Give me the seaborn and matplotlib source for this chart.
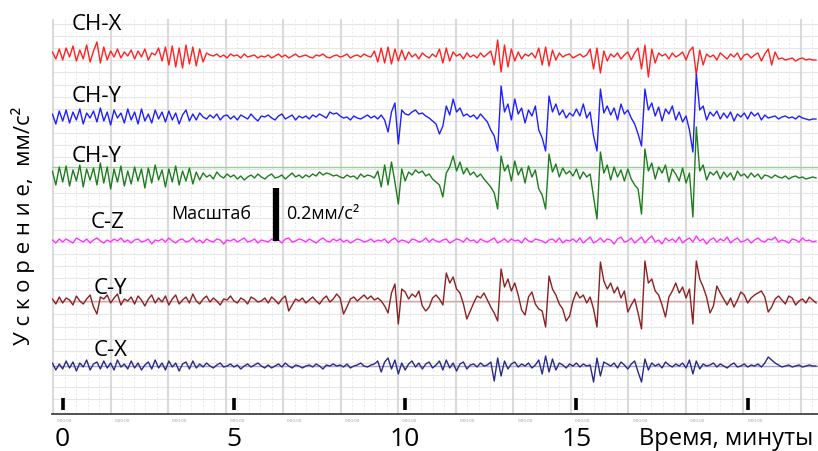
import numpy as np
import pandas as pd
import matplotlib
matplotlib.use("Agg")
import matplotlib.pyplot as plt
import seaborn as sns

# digitised traces, sampled every 0.1 min starting at t = -0.3 min
# amplitude unit: 1 unit = 0.2/53 mm/s^2 (scale bar of 0.2 mm/s^2 = 53 units), up = positive
T0 = -0.3
DT = 0.1
SCALE_BAR = 53  # units for 0.2 mm/s^2

ch_x = [5, -2, 8,
        -3, 9, 0, 11, -4, 7, -2, 12, -5, 6,
        15, -6, 10, -3, 6, 0, 8, -1, 5, 1,
        7, -2, 6, 0, 8, -3, 4, 2, 9, -4,
        10, -8, 11, -10, 9, -11, 12, -7, 10, -9,
        8, -5, 4, 2, 1, 3, 0, 2, -1, 3,
        1, 2, -1, 3, 0, 1, 2, -1, 1, 0,
        2, -1, 1, 3, 0, 2, -1, 1, 3, 0,
        1, 2, 0, -1, 2, 1, 3, 0, -1, 1,
        2, 0, 1, 3, -1, 1, 2, 0, 3, 1,
        0, 6, -5, 9, -6, 10, -7, 8, -4, 7,
        -3, 5, 0, 3, -2, 4, 1, -1, 3, 0,
        8, -6, 9, -4, 5, 1, 3, -2, 4, 0,
        2, -1, 4, 0, 3, 6, -8, 17, -15, 12,
        -10, 8, -4, 5, -2, 3, 1, 4, -1, 9,
        -8, 10, -9, 7, -3, 4, 0, 2, 3, -1,
        1, 3, 0, 2, 8, -12, 9, -16, 6, -4,
        3, 0, 4, -2, 2, 5, -3, 4, 9, -12,
        12, -20, 8, -6, 4, 1, 3, -2, 4, 0,
        2, 5, -3, 6, 10, -18, 7, -8, 3, 0,
        2, -3, 4, 1, -2, 3, 0, 4, -3, 2,
        3, -1, 2, 4, -4, 3, 8, -8, 5, -2,
        -1, -3, -2, -1, -4, -2, -1, -3, -2, -3,
        -3]

ch_y = [4, -6, 7,
        -3, 8, -5, 6, -2, 9, -6, 5, 0, 7,
        -4, 10, -3, 6, -7, 8, 0, 5, -5, 9,
        -2, 6, -6, 9, -3, 4, -5, 8, -1, 6,
        -4, 7, -2, 5, -6, 3, 8, -3, 4, -2,
        5, 1, -1, 3, 0, 4, -2, 2, 3, -1,
        2, -2, 3, 1, -1, 4, 0, -3, 2, 1,
        3, 0, -2, 2, 4, -1, 1, 3, -2, 2,
        0, 2, -1, 3, 1, 4, 2, 0, 6, 4,
        5, 2, 0, 1, -2, 2, 0, -1, 1, 3,
        0, 2, -1, 3, -2, -14, 6, 15, -26, 8,
        4, 3, 6, 8, 4, 5, 2, 0, -3, -6,
        -16, -8, 12, 3, 19, 6, 10, 2, 4, 1,
        3, -1, 4, 0, -4, -12, -18, -33, 32, 6,
        14, -2, 19, 4, 10, -5, 8, 2, 12, -12,
        -20, -33, 22, 6, 14, 3, 8, 0, 5, 2,
        9, 2, 14, 0, 6, -18, -33, 29, 5, 12,
        3, 10, -2, 14, 4, 8, 0, -6, -16, -28,
        29, 8, 15, 2, 11, -3, 9, 4, 12, -2,
        6, -4, 2, -12, -34, 44, 8, 12, -2, 6,
        2, 7, -1, 5, 0, 6, -3, 4, 1, 5,
        -1, 6, 2, 5, -2, 3, 0, 1, 2, -1,
        1, 2, 0, 1, -1, 2, 0, -1, -2, -1,
        -1]

ch_y2 = [6, -8, 10,
         -5, 11, -9, 7, -4, 12, -10, 8, -3, 9,
         -8, 14, -6, 10, -12, 8, -5, 11, -9, 6,
         -7, 10, -4, 8, -11, 9, -6, 12, -3, 7,
         -10, 8, -5, 11, -8, 6, -4, 9, -7, 5,
         -3, 4, 0, 2, -2, 5, 1, -1, 3, 0,
         2, -2, 1, -3, 0, 2, -1, 3, 0, -2,
         1, 3, -1, 0, 2, -2, 1, 4, 0, 2,
         -1, 2, 0, 3, 1, 5, 2, 4, 3, 1,
         2, 0, -1, 2, 0, 1, -2, 3, 0, 2,
         1, -1, 6, -10, 12, -8, 15, -5, -27, 8,
         -4, 5, 2, 7, 4, 6, 1, 3, -2, -5,
         -8, -20, 4, 10, 21, 6, 15, 3, 9, 2,
         5, 0, 3, -2, -6, -10, -16, -32, 21, 6,
         12, -4, 16, 2, 9, -6, 11, 0, 7, -12,
         -18, -32, 23, 5, 13, 0, 9, 3, 6, 1,
         8, -2, 5, 0, 3, -20, -42, 25, 4, 12,
         -3, 10, 0, 7, -4, 8, -2, -8, -12, -37,
         28, 6, 14, -2, 10, 4, 12, -5, 8, 3,
         -4, 9, -6, 4, -40, 50, 6, 12, -3, 5,
         2, 6, -2, 5, 0, 4, -3, 6, 1, 3,
         -1, 4, 0, 3, -2, 2, 1, -1, 2, 0,
         -1, 1, -2, 0, 1, -1, 0, -2, -1, 0,
         -1]

c_z = [1, -2, 2,
       -1, 2, 0, -2, 3, 1, -1, 2, -2, 1,
       3, 0, -2, 1, -1, 2, 0, 3, -1, 1,
       -2, 1, 2, -1, 0, 2, -3, 1, 0, 2,
       -1, 3, 0, -2, 1, 2, -1, 0, 3, -1,
       1, -2, 2, 0, -1, 2, 1, -3, 1, 0,
       2, -1, 1, 3, -1, 0, 2, -2, 1, 0,
       -1, 2, 0, 1, -2, 2, 3, -1, 0, 2,
       1, -1, 2, 0, -2, 1, 3, 0, -1, 2,
       0, 2, -1, 1, -2, 0, 2, 1, -1, 0,
       2, -1, 1, 0, 2, -2, 1, 3, -1, 1,
       0, -2, 2, 1, -1, 0, 3, -1, 2, 0,
       -1, 1, 2, -2, 0, 2, 1, -1, 3, 0,
       1, -2, 2, 0, -1, 1, 3, -2, 0, 2,
       -1, 2, 0, 1, -2, 3, 0, -1, 2, 1,
       0, -2, 1, 2, -1, 3, -2, 1, 0, 2,
       -1, 3, -2, 1, 4, -2, 0, 3, -1, 2,
       1, -3, 2, 4, -1, 0, 3, -2, 1, 4,
       -2, 2, 5, -1, 1, -3, 3, 0, 2, -1,
       4, -2, 1, 3, -1, 5, 0, 2, -3, 1,
       3, -1, 2, 0, 4, -2, 1, 3, -1, 0,
       2, -2, 1, 3, 0, -1, 2, 1, 4, -1,
       1, 0, -2, 2, 1, -1, 3, 0, 1, -1,
       0]

c_y = [2, -3, 4,
       -2, 3, 1, -4, 5, 0, -3, 2, 6, -6,
       -13, 4, 2, 6, -2, 3, 7, -4, 2, 0,
       4, -3, 5, 1, -5, 2, 6, -2, 3, -1,
       5, -4, 2, 6, -3, 1, 4, -2, 7, 0,
       -3, 2, 5, -1, 3, 0, -4, 2, 1, 5,
       0, -2, 3, 1, -3, 4, 2, -1, 0, 3,
       -2, 4, 1, -3, 2, 5, -10, -4, 2, 0,
       3, -2, 1, 4, 0, -3, 2, 5, -1, 2,
       7, 3, -13, -6, 2, 4, 0, 3, 6, 2,
       5, 1, 3, 0, -5, -12, 8, 17, -23, 12,
       9, 2, 7, 4, 10, -5, -10, -6, 3, 6,
       2, -4, 28, 18, 24, 12, 8, -3, -18, -10,
       -2, 5, 3, 8, 1, -6, -12, -20, 32, 14,
       22, 10, 18, 6, -9, -14, 4, 9, -3, -8,
       -10, -26, 25, 12, 6, -3, -8, -20, -15, 0,
       9, 3, 6, -2, 4, -8, -26, 39, 20, 12,
       18, 8, 14, 3, 10, -11, -4, 2, -12, -28,
       40, 18, 22, 10, 6, -4, -16, 4, 10, 18,
       8, 14, 3, 12, -23, 40, 22, 14, 4, -12,
       -5, 15, 8, 2, -4, 3, -6, 1, 9, 6,
       -2, 3, 6, 8, 10, 4, -11, -6, 2, 5,
       1, -3, 5, 3, -4, 0, 2, -2, 4, 1,
       -2]

c_x = [3, -4, 2,
       -3, 5, -2, 4, -5, 3, -1, 6, -4, 2,
       4, -3, 5, -2, 3, -4, 6, -1, 2, -3,
       5, -2, 3, -4, 1, 4, -3, 6, -2, 3,
       -4, 5, -1, 3, -5, 2, 4, -3, 5, -2,
       2, -1, 3, 0, -2, 1, 3, -1, 0, 2,
       -1, 1, -3, 0, 2, -1, 1, 3, 0, -2,
       1, -2, 0, 2, -1, 3, 0, -2, 1, 0,
       -2, 0, 1, -1, 2, 0, -3, 1, 0, 2,
       0, 1, -1, 2, -2, 0, 1, 3, 0, -1,
       1, 2, 5, -6, 4, 8, -3, 6, -8, 3,
       -4, 2, 5, -1, 3, -3, 2, 4, -2, 1,
       5, -4, 6, -2, 3, -5, 2, 4, -3, 1,
       2, -1, 3, 0, 1, 4, -15, 8, -10, 5,
       -3, 2, 4, -1, 2, 0, 3, -2, 1, 6,
       -8, 10, -6, 7, -4, 3, 1, -2, 2, 0,
       3, -1, 2, 0, 1, -16, 8, -10, 4, 2,
       0, 3, -2, 4, 1, -3, 2, 5, -6, -16,
       7, -4, 3, 0, 2, -2, 4, 1, -1, 2,
       0, 3, -2, 6, -8, 5, -3, 2, 0, 1,
       3, -1, 2, 0, -2, 1, 3, -1, 0, 2,
       -1, 1, 0, 2, -1, 3, 9, 6, 3, 1,
       -1, 0, 1, -1, 0, 1, -1, 0, 1, 0,
       0]

trace_keys = ["CH-X", "CH-Y", "CH-Y 2", "C-Z", "C-Y", "C-X"]
trace_labels = ["CH-X", "CH-Y", "CH-Y", "C-Z", "C-Y", "C-X"]
trace_values = [ch_x, ch_y, ch_y2, c_z, c_y, c_x]
time_ticks = [0, 5, 10, 15]
time_marks = [0, 5, 10, 15, 20]

# layout (axis units above the time axis)
baselines = [357, 296, 237, 173, 113, 48]
colors = ["#ff2222", "#2020ff", "#1e7d1e", "#ff33ff", "#8b2222", "#2a2a8c"]
label_pos = [(72, 24), (72, 97), (72, 156), (91, 223), (94, 288), (94, 351)]  # px

frames = []
for key, vals, base in zip(trace_keys, trace_values, baselines):
    t = T0 + DT * np.arange(len(vals))
    frames.append(pd.DataFrame({"t": t, "y": base + np.asarray(vals, float), "trace": key}))
df = pd.concat(frames, ignore_index=True)

sns.set_style("white")
plt.rcParams["font.family"] = ["Open Sans", "DejaVu Sans"]
plt.rcParams["text.color"] = "black"

W, H = 818, 452
fig = plt.figure(figsize=(W / 100, H / 100), dpi=100)
ax = fig.add_axes([52 / W, 37 / H, 766 / W, 395 / H])
XMAX = 22.053
ax.set_xlim(-0.312, XMAX)
ax.set_ylim(0, 395)

# paper grid
major_step = 1.679
minor_step = major_step / 5
for y in np.arange(390, 5, -12.1):
    ax.axhline(y, color="#e6e6e6", lw=0.8, zorder=0)
for x in np.arange(-0.28, 22.1, minor_step):
    ax.axvline(x, color="#e8e8e8", lw=0.7, ls=(0, (2, 2)), zorder=0)
for x in np.arange(-0.28, 22.1, major_step):
    ax.axvline(x, color="#dadada", lw=1.5, zorder=0)

# faint reference lines
ax.axhline(247, color="#9ad19a", lw=1.0, zorder=1)
ax.axhline(113, color="#dba3a3", lw=1.0, zorder=1)
ax.axhline(48, color="#a3a3d6", lw=1.0, zorder=1)

sns.lineplot(data=df, x="t", y="y", hue="trace", hue_order=trace_keys,
             palette=dict(zip(trace_keys, colors)), estimator=None, sort=False,
             lw=1.0, legend=False, ax=ax, zorder=3)

# minute marks above the axis
ax.vlines(time_marks, 4, 16, color="black", lw=2.6, zorder=4)

for s in ["top", "right", "left"]:
    ax.spines[s].set_visible(False)
ax.spines["bottom"].set_color("#444444")
ax.spines["bottom"].set_linewidth(1.3)
ax.set_yticks([])
ax.set_xticks(time_ticks)
ax.set_xticklabels([str(v) for v in time_ticks], fontsize=19)
ax.set_xticks(np.arange(-0.28, 22.1, minor_step), minor=True)
ax.tick_params(axis="x", which="major", length=0, pad=9, labelcolor="black")
ax.tick_params(axis="x", which="minor", length=3, width=0.9, color="#444444", direction="out")
ax.set_xlabel("")
ax.set_ylabel("")

# tiny time stamps under the axis
for x in np.arange(-0.28, 21.5, major_step):
    ax.text(x + 0.12, -6, "0:00:00", fontsize=3.2, color="#9a9a9a",
            ha="left", va="center", clip_on=False)

# scale bar
scale_t = (276 - 62.7) / 34.25
ax.vlines([scale_t], 173, 173 + SCALE_BAR, color="black", lw=4.5, zorder=4)


def ftext(x, y, s, **kw):
    fig.text(x / W, 1 - y / H, s, color="black", **kw)


for (lx, ly), lab in zip(label_pos, trace_labels):
    ftext(lx, ly, lab, fontsize=16, va="center", ha="left")
ftext(171, 214, "Масштаб", fontsize=13, va="center", ha="left")
ftext(286, 214, "0.2мм/с²", fontsize=13, va="center", ha="left")
ftext(813, 439, "Время, минуты", fontsize=17, va="center", ha="right")
ftext(23, 226, "У с к о р е н и е,  мм/с²", fontsize=16, rotation=90,
      va="center", ha="center")

fig.savefig("out.png", dpi=100)
